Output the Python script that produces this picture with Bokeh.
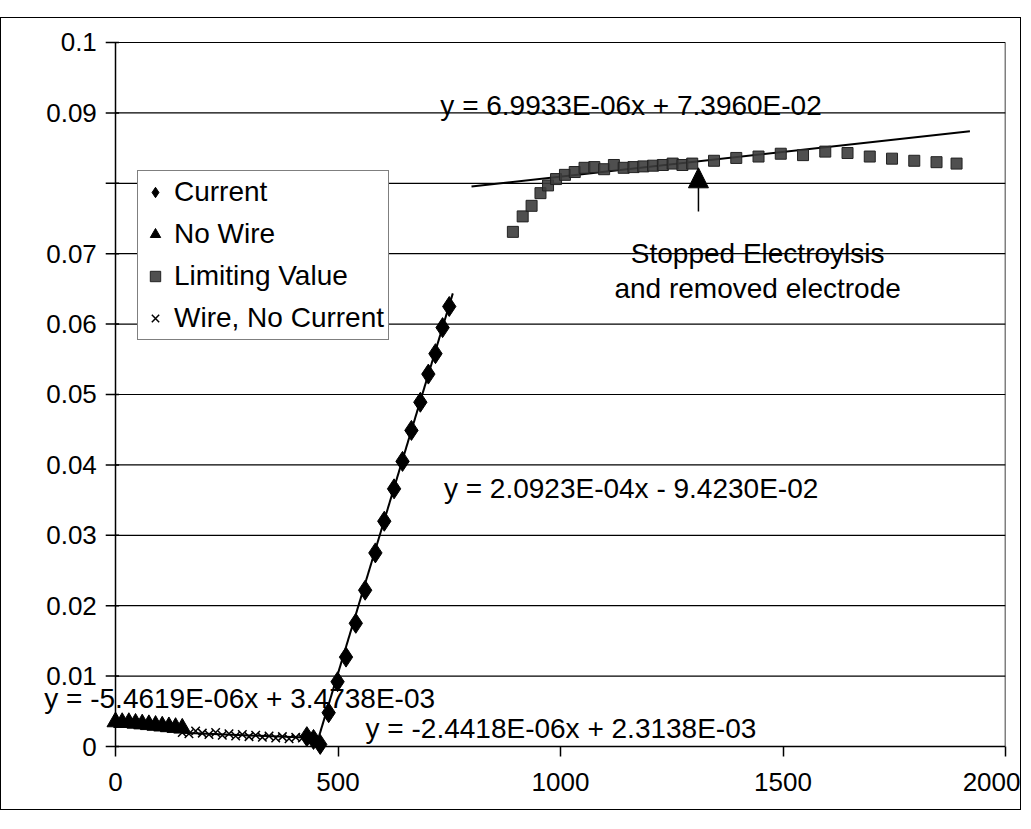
from bokeh.plotting import figure
from bokeh.models import Range1d, Label, Arrow, NormalHead, Legend, LegendItem, ColumnDataSource
from bokeh.core.properties import value
from bokeh.embed import file_html
from bokeh.resources import INLINE

FONT = "Liberation Sans"

# ---------------- data ----------------
x_ticks = [0, 500, 1000, 1500, 2000]
y_ticks = [0, 0.01, 0.02, 0.03, 0.04, 0.05, 0.06, 0.07, 0.08, 0.09, 0.1]
y_tick_labels = ["0", "0.01", "0.02", "0.03", "0.04", "0.05", "0.06", "0.07", "", "0.09", "0.1"]

current_x = [430, 445, 460, 479, 499, 518, 540, 561, 584, 604, 626, 645, 665, 685, 703, 719, 735, 750]
current_y = [0.0014, 0.0010, 0.0003, 0.0048, 0.0092, 0.0127, 0.0175, 0.0222, 0.0275, 0.0320,
             0.0366, 0.0405, 0.0449, 0.0489, 0.0529, 0.0558, 0.0595, 0.0625]

nowire_x = [0, 15, 30, 45, 60, 75, 90, 105, 120, 135, 150]
nowire_y = [0.0035, 0.0034, 0.0034, 0.0033, 0.0032, 0.0031, 0.0030, 0.0029, 0.0028, 0.0027, 0.0026]

limit_x = [893, 915, 935, 955, 972, 990, 1010, 1032, 1054, 1076, 1098, 1120, 1142, 1164, 1186,
           1208, 1230, 1252, 1274, 1296, 1345, 1395, 1445, 1495, 1545, 1595, 1645, 1695, 1745,
           1795, 1845, 1890]
limit_y = [0.0731, 0.0753, 0.0768, 0.0786, 0.0797, 0.0806, 0.0812, 0.0816, 0.0822, 0.0823,
           0.0820, 0.0826, 0.0822, 0.0823, 0.0824, 0.0825, 0.0826, 0.0828, 0.0826, 0.0828,
           0.0832, 0.0836, 0.0838, 0.0842, 0.0840, 0.0845, 0.0843, 0.0838, 0.0835, 0.0832,
           0.0830, 0.0828]

wire_x = [150, 165, 180, 195, 210, 225, 240, 255, 270, 285, 300, 315, 330, 345, 360, 375, 390, 405, 420, 435]
wire_y = [0.0020, 0.0018, 0.0022, 0.0019, 0.0017, 0.0020, 0.0016, 0.0018, 0.0015, 0.0017,
          0.0014, 0.0016, 0.0013, 0.0015, 0.0012, 0.0014, 0.0011, 0.0013, 0.0012, 0.0011]

# trendline equations (slope, intercept) and their x extents
fit_current = (2.0923e-04, -9.4230e-02, 452, 758)
fit_nowire = (-5.4619e-06, 3.4738e-03, 0, 150)
fit_limit = (6.9933e-06, 7.3960e-02, 800, 1920)
fit_wire = (-2.4418e-06, 2.3138e-03, 150, 440)

eq_texts = ["y = 6.9933E-06x + 7.3960E-02",
            "y = 2.0923E-04x - 9.4230E-02",
            "y = -5.4619E-06x + 3.4738E-03",
            "y = -2.4418E-06x + 2.3138E-03"]
note_lines = ["Stopped Electroylsis", "and removed electrode"]
arrow_x = 1310
arrow_y = (0.0760, 0.0822)

X_MIN, X_MAX = 0, 2000
Y_MIN, Y_MAX = 0, 0.1

# ---------------- figure ----------------
p = figure(width=1021, height=793, output_backend="svg", toolbar_location=None,
           x_range=Range1d(-213.5, X_MAX), y_range=Range1d(-0.00142, 0.10213),
           min_border_left=19, min_border_right=17, min_border_top=9, min_border_bottom=55)
p.margin = (17, 0, 0, 0)
p.styles = {"border": "1px solid black"}
p.background_fill_color = "white"
p.border_fill_color = "white"
p.outline_line_color = None
p.grid.visible = False
p.yaxis.visible = False

# x axis (real axis at the frame bottom; its ticks reach up to y = 0)
xa = p.xaxis[0]
xa.ticker = x_ticks
xa.axis_line_color = None
xa.major_tick_line_color = "black"
xa.major_tick_line_width = 1.5
xa.minor_tick_line_color = None
xa.major_tick_out = 0
xa.major_tick_in = 10
xa.major_label_standoff = 16
xa.major_label_text_font = FONT
xa.major_label_text_font_size = "26px"
xa.major_label_text_color = "black"

# horizontal gridlines and plot box, drawn at the y tick values
grid_src = ColumnDataSource(dict(y=y_ticks[1:]))
p.segment(x0=X_MIN, x1=X_MAX, y0="y", y1="y", source=grid_src, line_color="black", line_width=1.2)
p.segment(x0=[X_MIN, X_MAX, X_MIN], x1=[X_MIN, X_MAX, X_MAX],
          y0=[Y_MIN, Y_MIN, Y_MIN], y1=[Y_MAX, Y_MAX, Y_MIN], line_color="black", line_width=1.5)

# y axis ticks and labels at x = 0
tick_src = ColumnDataSource(dict(y=y_ticks))
p.segment(x0=-22, x1=8, y0="y", y1="y", source=tick_src, line_color="black", line_width=1.5)
lab_src = ColumnDataSource(dict(y=[t for t, s in zip(y_ticks, y_tick_labels) if s],
                                t=[s for s in y_tick_labels if s]))
p.text(x=-42, y="y", text="t", source=lab_src, text_align="right", text_baseline="middle",
       text_font=value(FONT), text_font_size="26px", text_color="black")

# trendlines
for m, b, x0, x1 in (fit_current, fit_nowire, fit_limit, fit_wire):
    p.line([x0, x1], [m * x0 + b, m * x1 + b], line_color="black", line_width=2)

r_cur = p.scatter(current_x, current_y, marker="diamond", size=20, fill_color="black", line_color="black")
r_now = p.scatter(nowire_x, nowire_y, marker="triangle", size=17, fill_color="black", line_color="black")
r_lim = p.scatter(limit_x, limit_y, marker="square", size=11, fill_color="#3c3c3c", line_color="#222222",
                  fill_alpha=0.9)
r_wir = p.scatter(wire_x, wire_y, marker="x", size=12, line_color="black", line_width=1.5)

legend = Legend(items=[LegendItem(label="Current", renderers=[r_cur]),
                       LegendItem(label="No Wire", renderers=[r_now]),
                       LegendItem(label="Limiting Value", renderers=[r_lim]),
                       LegendItem(label="Wire, No Current", renderers=[r_wir])],
                location=(117, 416))
legend.label_text_font = FONT
legend.label_text_font_size = "28px"
legend.label_text_color = "black"
legend.border_line_color = "black"
legend.border_line_width = 1.5
legend.background_fill_color = "white"
legend.background_fill_alpha = 1
legend.glyph_width = 26
legend.glyph_height = 34
legend.label_standoff = 6
legend.spacing = 8
legend.padding = 4
legend.margin = 0
p.add_layout(legend)

def lab(x, y, t, align="left"):
    p.add_layout(Label(x=x, y=y, text=t, text_font=FONT, text_font_size="28px",
                       text_color="black", text_baseline="middle", text_align=align))

lab(730, 0.0911, eq_texts[0])
lab(738, 0.0366, eq_texts[1])
lab(-160, 0.0068, eq_texts[2])
lab(562, 0.0026, eq_texts[3])
lab(1443, 0.0700, note_lines[0], "center")
lab(1443, 0.0650, note_lines[1], "center")

p.add_layout(Arrow(x_start=arrow_x, y_start=arrow_y[0], x_end=arrow_x, y_end=arrow_y[1],
                   line_color="black", line_width=1.5,
                   end=NormalHead(size=20, fill_color="black", line_color="black")))

open("out.html", "w").write(file_html(p, INLINE))
